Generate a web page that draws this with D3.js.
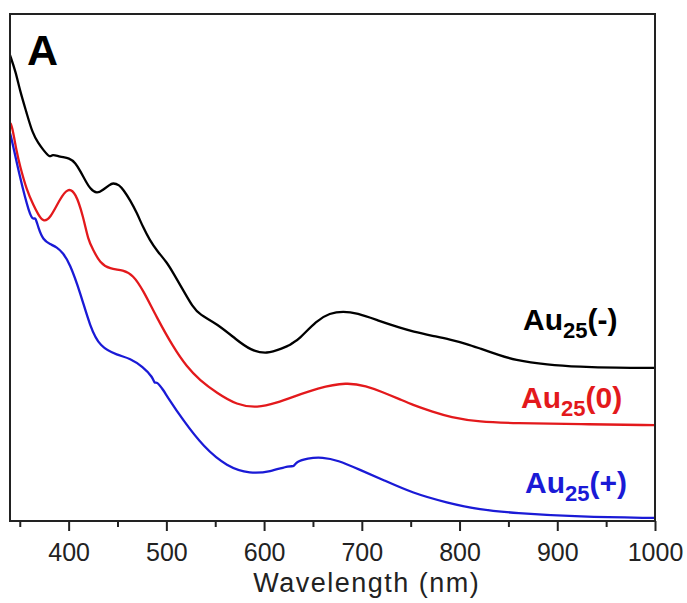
<!DOCTYPE html>
<html>
<head>
<meta charset="utf-8">
<script src="https://cdn.jsdelivr.net/npm/d3@7"></script>
<style>
  html, body { margin: 0; padding: 0; background: #fff; }
  svg { display: block; }
  text { font-family: "Liberation Sans", Arial, Helvetica, sans-serif; }
</style>
</head>
<body>
<svg id="chart" width="687" height="603"></svg>
<script>
// UV-vis absorption spectra of the three Au25 charge states (offset, arbitrary units)
const auMinusWavelength = [340,346,350,357,363,369,374,381,383,391,401,407,412,417,422,429,435,442,445,452,456,463,470,476,483,490,501,507,517,527,534,552,572,586,603,619,627,630,635,654,667,681,695,716,739,752,773,790,808,821,841,855,890,923,960,1000];
const auMinusAbs = [0.919,0.885,0.850,0.805,0.765,0.745,0.732,0.716,0.724,0.718,0.716,0.706,0.690,0.672,0.655,0.645,0.653,0.663,0.667,0.663,0.653,0.633,0.607,0.580,0.554,0.534,0.509,0.489,0.456,0.422,0.407,0.389,0.357,0.337,0.329,0.341,0.347,0.353,0.357,0.396,0.410,0.414,0.410,0.396,0.381,0.374,0.365,0.358,0.349,0.340,0.327,0.318,0.308,0.304,0.302,0.302];

const auZeroWavelength = [340,342,347,350,357,364,369,374,381,391,399,407,415,420,425,432,442,456,466,476,490,507,521,534,552,572,593,613,630,654,685,705,719,739,752,773,790,821,855,923,1000];
const auZeroAbs = [0.785,0.781,0.726,0.702,0.653,0.623,0.604,0.590,0.596,0.635,0.657,0.649,0.600,0.554,0.535,0.509,0.497,0.495,0.485,0.456,0.402,0.343,0.304,0.278,0.252,0.229,0.223,0.233,0.245,0.262,0.274,0.266,0.256,0.240,0.229,0.215,0.205,0.195,0.193,0.191,0.189];

const auPlusWavelength = [340,342,350,360,364,366,369,374,381,388,394,401,412,422,432,450,463,476,486,488,490,497,501,517,538,562,586,606,627,630,633,644,660,675,698,722,752,787,821,855,923,1000];
const auPlusAbs = [0.765,0.751,0.679,0.604,0.594,0.600,0.578,0.554,0.546,0.540,0.529,0.509,0.450,0.383,0.343,0.327,0.321,0.304,0.284,0.270,0.276,0.258,0.245,0.199,0.146,0.107,0.093,0.097,0.110,0.106,0.117,0.124,0.126,0.120,0.101,0.081,0.055,0.036,0.022,0.016,0.008,0.006];

const majorTicks = [400,500,600,700,800,900,1000];
const minorTicks = [350,450,550,650,750,850,950];

const seriesNames = ["-", "0", "+"];
const seriesColors = ["#000000", "#e3191c", "#1a1ad6"];

const margin = { left: 10, right: 32, top: 14, bottom: 82 };
const W = 687, H = 603;
const plotW = W - margin.left - margin.right;
const plotH = H - margin.top - margin.bottom;

const svg = d3.select("#chart");
const g = svg.append("g").attr("transform", `translate(${margin.left},${margin.top})`);

const x = d3.scaleLinear().domain([340, 1000]).range([0, plotW]);
const y = d3.scaleLinear().domain([0, 1]).range([plotH, 0]);

const series = [
  { name: seriesNames[0], color: seriesColors[0], pts: d3.zip(auMinusWavelength, auMinusAbs) },
  { name: seriesNames[1], color: seriesColors[1], pts: d3.zip(auZeroWavelength, auZeroAbs) },
  { name: seriesNames[2], color: seriesColors[2], pts: d3.zip(auPlusWavelength, auPlusAbs) }
];

const line = d3.line()
  .x(d => x(d[0]))
  .y(d => y(d[1]))
  .curve(d3.curveBasis);

g.append("defs").append("clipPath").attr("id", "plotClip")
  .append("rect").attr("width", plotW).attr("height", plotH);

g.append("g").attr("clip-path", "url(#plotClip)")
  .selectAll("path.spec")
  .data(series)
  .join("path")
  .attr("class", "spec")
  .attr("fill", "none")
  .attr("stroke", d => d.color)
  .attr("stroke-width", 2.3)
  .attr("stroke-linejoin", "round")
  .attr("d", d => line(d.pts));

// bottom axis: major ticks with labels, minor ticks without
const axisMajor = d3.axisBottom(x).tickValues(majorTicks).tickSize(10).tickPadding(12).tickFormat(d3.format("d"));
const axG = g.append("g").attr("transform", `translate(0,${plotH})`).call(axisMajor);
axG.select(".domain").remove();
axG.selectAll(".tick line").attr("stroke", "#222").attr("stroke-width", 2);
axG.selectAll(".tick text")
  .attr("fill", "#222")
  .style("font-size", "25px")
  .style("font-family", "'Liberation Sans', Arial, sans-serif");

const axisMinor = d3.axisBottom(x).tickValues(minorTicks).tickSize(6).tickFormat("");
const axMin = g.append("g").attr("transform", `translate(0,${plotH})`).call(axisMinor);
axMin.select(".domain").remove();
axMin.selectAll(".tick line").attr("stroke", "#222").attr("stroke-width", 2);

// frame
g.append("rect")
  .attr("x", 0).attr("y", 0)
  .attr("width", plotW).attr("height", plotH)
  .attr("fill", "none")
  .attr("stroke", "#222")
  .attr("stroke-width", 2);

// axis title
svg.append("text")
  .attr("x", margin.left + x(705))
  .attr("y", 592)
  .attr("text-anchor", "middle")
  .attr("fill", "#222")
  .style("font-size", "27px")
  .style("letter-spacing", "1.5px")
  .text("Wavelength (nm)");

// panel letter
svg.append("text")
  .attr("x", 27).attr("y", 65)
  .attr("fill", "#000")
  .style("font-size", "43px")
  .style("font-weight", "bold")
  .text("A");

// series labels
const labelPos = [
  { x: 523, y: 330 },
  { x: 521, y: 408 },
  { x: 525, y: 493 }
];
series.forEach((s, i) => {
  const t = svg.append("text")
    .attr("x", labelPos[i].x).attr("y", labelPos[i].y)
    .attr("fill", s.color)
    .style("font-size", "30px")
    .style("font-weight", "bold");
  t.append("tspan").text("Au");
  t.append("tspan").attr("dy", 8).style("font-size", "22px").text("25");
  t.append("tspan").attr("dy", -8).text("(" + s.name + ")");
});
</script>
</body>
</html>
